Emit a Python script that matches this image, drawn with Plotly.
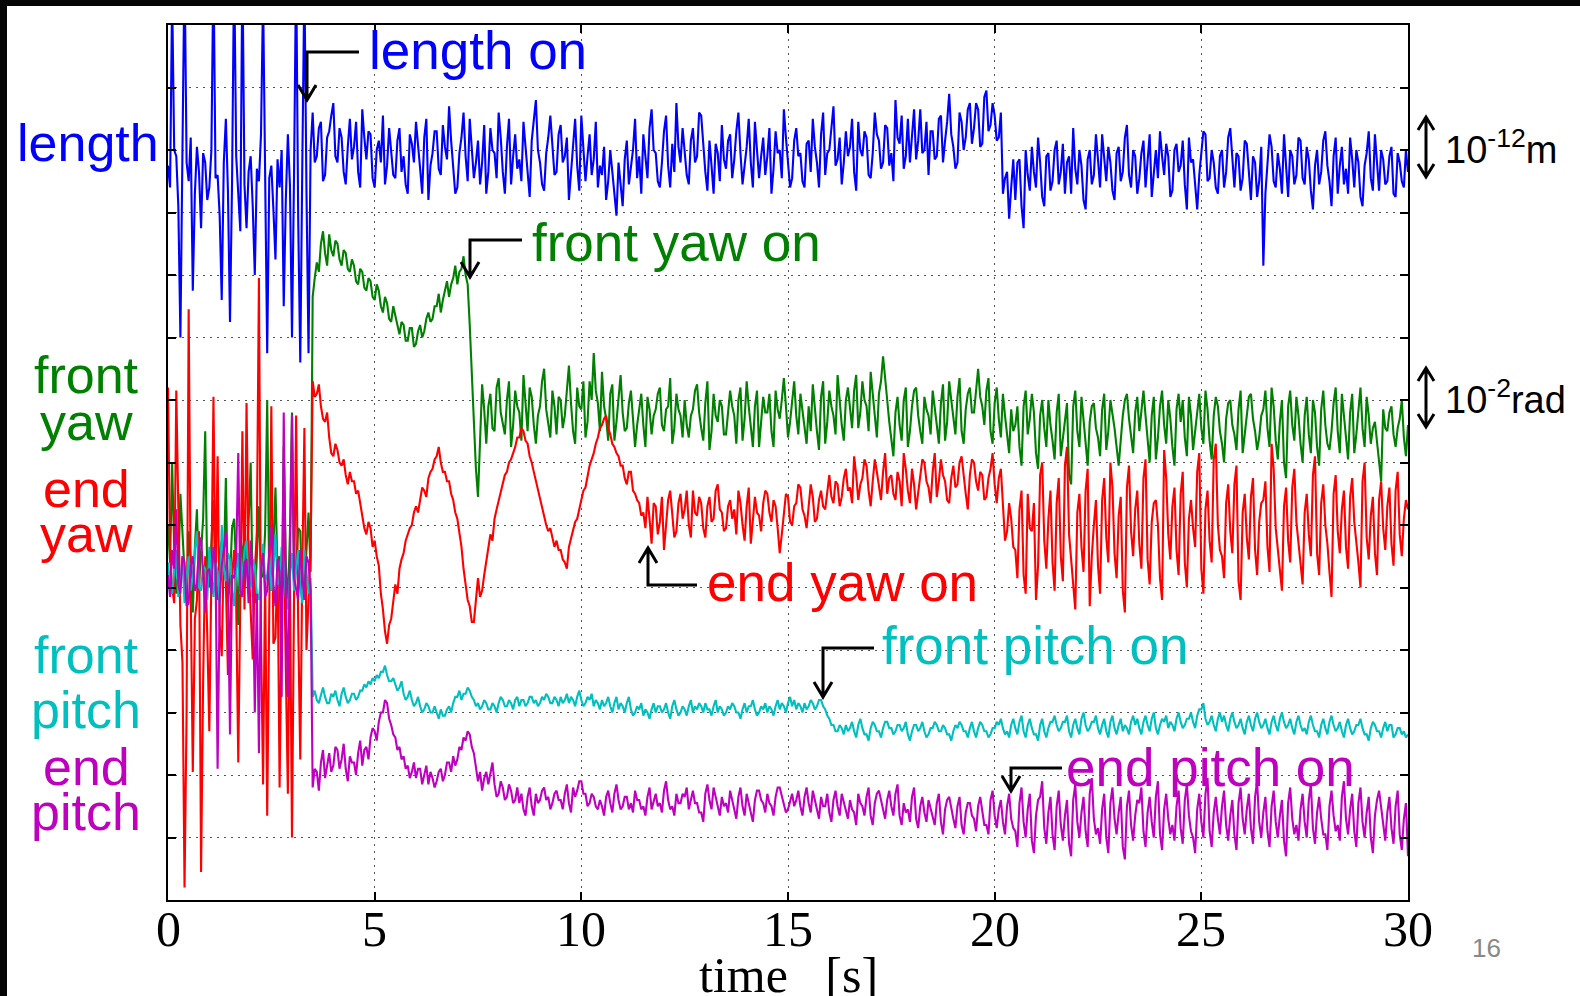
import plotly.graph_objects as go

# ---------------- data (sampled every 0.05 s, 0 .. 30 s) ----------------
DT = 0.05
x_ticks = [0, 5, 10, 15, 20, 25, 30]

length_vals = [
    235, 228, 290, 240, 238, 222, 180, 232, 300, 236,
    230, 244, 195, 226, 241, 233, 215, 239, 236, 224,
    228, 240, 300, 231, 232, 219, 192, 236, 250, 227,
    185, 230, 300, 238, 226, 214, 300, 229, 215, 233,
    238, 222, 200, 234, 230, 245, 290, 226, 175, 231,
    235, 221, 205, 237, 228, 240, 190, 224, 245, 229,
    180, 233, 300, 218, 172, 236, 295, 227, 175, 240,
    252, 236, 238, 247, 249, 230, 232, 244, 246, 251, 255, 238, 236, 247, 244, 233, 229, 241, 250, 237,
    241, 249, 233, 228, 253, 244, 237, 246, 245, 231, 228, 240, 243, 236, 251, 229, 235, 247, 240, 232,
    231, 243, 247, 233, 238, 229, 226, 245, 242, 236, 249, 240, 234, 226, 244, 250, 224, 235, 239, 246,
    246, 234, 232, 248, 241, 237, 254, 243, 235, 226, 228, 239, 244, 252, 238, 230, 250, 241, 231, 236,
    243, 229, 236, 248, 226, 233, 247, 240, 239, 231, 252, 244, 233, 226, 241, 250, 229, 238, 245, 234,
    237, 230, 249, 241, 232, 225, 243, 250, 256, 240, 236, 229, 227, 239, 244, 251, 240, 232, 233, 245,
    248, 236, 238, 244, 224, 233, 242, 250, 235, 227, 251, 242, 230, 238, 245, 232, 237, 249, 228, 235,
    232, 241, 224, 230, 240, 233, 226, 219, 236, 228, 222, 237, 243, 229, 234, 240, 250, 231, 238, 226,
    245, 238, 231, 247, 253, 240, 239, 230, 228, 236, 246, 251, 235, 228, 242, 233, 255, 241, 236, 247,
    240, 232, 229, 243, 247, 236, 238, 252, 251, 240, 233, 227, 243, 235, 226, 242, 239, 230, 248, 237,
    234, 243, 245, 231, 237, 246, 252, 239, 229, 235, 241, 250, 236, 228, 249, 240, 231, 238, 244, 232,
    238, 247, 226, 234, 246, 239, 240, 231, 253, 244, 235, 228, 231, 243, 247, 238, 239, 230, 228, 242,
    243, 233, 250, 241, 236, 228, 245, 252, 232, 239, 240, 248, 254, 235, 237, 244, 229, 236, 246, 238,
    241, 250, 233, 227, 249, 240, 238, 246, 244, 232, 231, 239, 252, 245, 243, 234, 236, 248, 247, 235,
    239, 230, 256, 244, 242, 251, 234, 238, 250, 236, 245, 253, 237, 243, 253, 239, 240, 249, 232, 246,
    246, 237, 238, 250, 251, 236, 243, 249, 258, 245, 241, 234, 236, 252, 249, 240, 244, 253, 255, 242,
    247, 255, 253, 241, 242, 257, 259, 246, 248, 255, 251, 243, 244, 252, 226, 231, 233, 218, 228, 237,
    224, 236, 237, 222, 215, 240, 232, 227, 241, 233, 228, 244, 236, 225, 222, 238, 239, 227, 230, 240,
    243, 229, 233, 242, 226, 236, 238, 226, 247, 234, 229, 240, 235, 224, 221, 237, 240, 229, 232, 245,
    237, 228, 245, 236, 230, 241, 236, 227, 224, 239, 241, 230, 233, 244, 248, 232, 228, 240, 238, 226,
    231, 239, 243, 228, 236, 245, 225, 233, 240, 231, 246, 238, 232, 242, 238, 225, 227, 240, 242, 233,
    235, 243, 229, 221, 244, 236, 237, 229, 221, 232, 239, 246, 245, 230, 231, 240, 236, 228, 226, 238,
    240, 228, 233, 244, 247, 236, 228, 239, 238, 227, 231, 243, 242, 233, 224, 238, 236, 225, 230, 241,
    203, 226, 236, 245, 241, 230, 228, 239, 234, 226, 245, 233, 225, 240, 238, 229, 232, 244, 243, 231,
    229, 241, 237, 227, 221, 235, 240, 229, 233, 243, 246, 235, 230, 222, 238, 244, 226, 235, 241, 229,
    234, 226, 244, 237, 228, 240, 236, 225, 222, 235, 239, 246, 231, 227, 245, 236, 227, 240, 237, 229,
    230, 238, 241, 226, 225, 239, 236, 230, 228, 240, 233,
]

front_yaw_vals = [
    120, 108, 140, 112, 98, 104, 130, 117, 105, 96,
    118, 109, 92, 113, 125, 101, 110, 122, 150, 103,
    100, 114, 128, 99, 96, 111, 115, 107, 135, 95,
    102, 119, 122, 106, 88, 116, 112, 100, 108, 121,
    140, 97, 95, 110, 126, 103, 104, 118, 160, 101,
    99, 113, 132, 105, 110, 94, 145, 108, 94, 117,
    156, 102, 107, 119, 118, 96, 100, 112, 124, 105,
    193, 199, 204, 201, 210, 214, 207, 203, 213, 208, 206, 211, 210, 205, 203, 208, 207, 202, 201, 205,
    203, 198, 197, 202, 201, 196, 195, 199, 198, 193, 192, 197, 195, 190, 188, 193, 191, 186, 185, 190,
    187, 183, 181, 185, 184, 179, 179, 183, 183, 177, 178, 182, 184, 180, 182, 186, 188, 185, 186, 190,
    190, 194, 188, 192, 195, 198, 193, 197, 199, 203, 197, 201, 202, 206, 200, 197, 184, 168, 150, 138,
    129, 148, 165, 157, 146, 158, 162, 151, 150, 164, 167, 156, 153, 149, 160, 166, 145, 152, 163, 158,
    156, 147, 168, 159, 150, 164, 161, 152, 146, 155, 158, 166, 170, 157, 152, 148, 163, 158, 149, 161,
    160, 151, 155, 163, 171, 159, 150, 146, 164, 158, 157, 166, 148, 153, 166, 160, 175, 163, 159, 150,
    169, 158, 154, 147, 162, 165, 147, 153, 160, 168, 156, 150, 151, 159, 163, 154, 145, 152, 158, 162,
    152, 145, 161, 157, 149, 155, 157, 162, 164, 152, 150, 157, 158, 167, 146, 151, 162, 157, 155, 148,
    160, 152, 148, 155, 157, 163, 165, 156, 151, 147, 159, 166, 144, 150, 162, 155, 153, 160, 158, 149,
    149, 155, 163, 158, 155, 146, 160, 164, 147, 154, 166, 158, 152, 145, 158, 163, 145, 152, 161, 156,
    156, 162, 150, 145, 163, 157, 154, 160, 167, 158, 148, 153, 160, 166, 155, 149, 162, 157, 151, 146,
    158, 150, 165, 157, 150, 144, 161, 166, 146, 153, 163, 158, 155, 149, 168, 160, 152, 147, 160, 164,
    157, 151, 163, 168, 151, 156, 166, 160, 158, 150, 169, 162, 155, 148, 162, 166, 174, 168, 160, 153,
    148, 142, 156, 161, 152, 147, 160, 164, 145, 150, 158, 163, 164, 155, 150, 146, 161, 157, 155, 149,
    163, 158, 152, 146, 159, 165, 147, 153, 166, 160, 155, 149, 161, 167, 150, 146, 157, 162, 164, 156,
    156, 163, 170, 161, 158, 152, 163, 167, 150, 146, 159, 164, 154, 148, 162, 155, 149, 143, 157, 150,
    152, 158, 145, 139, 158, 163, 149, 154, 162, 156, 143, 138, 155, 160, 151, 145, 160, 152, 147, 141,
    156, 162, 142, 148, 154, 159, 136, 133, 158, 163, 150, 145, 161, 154, 146, 139, 153, 158, 159, 151,
    148, 142, 157, 162, 144, 150, 160, 156, 151, 145, 139, 147, 155, 160, 162, 154, 149, 143, 156, 161,
    150, 157, 163, 155, 146, 140, 155, 161, 141, 148, 158, 163, 152, 146, 160, 154, 145, 139, 157, 162,
    153, 160, 148, 142, 161, 155, 144, 150, 156, 162, 151, 146, 163, 157, 147, 141, 155, 161, 158, 150,
    146, 140, 154, 159, 160, 152, 149, 144, 157, 163, 143, 149, 155, 161, 162, 154, 150, 144, 148, 155,
    157, 163, 151, 145, 164, 158, 147, 141, 153, 160, 140, 135, 158, 163, 152, 147, 161, 155, 146, 140,
    155, 161, 149, 143, 160, 156, 145, 139, 157, 163, 152, 146, 144, 150, 159, 164, 150, 143, 162, 156,
    148, 141, 156, 162, 143, 149, 158, 164, 151, 145, 161, 155, 146, 151, 153, 147, 140, 134, 157, 151,
    150, 156, 158, 149, 145, 151, 154, 160, 148, 142, 152,
]

end_yaw_vals = [
    164, 110, 100, 95, 163, 120, 88, 76, 4, 60,
    189, 98, 41, 90, 96, 118, 9, 70, 110, 85,
    54, 105, 161, 99, 142, 88, 78, 112, 102, 72,
    86, 104, 112, 95, 44, 100, 150, 93, 159, 108,
    90, 77, 105, 118, 199, 85, 37, 104, 27, 96,
    158, 82, 84, 110, 36, 92, 118, 74, 34, 103,
    20, 98, 155, 88, 45, 107, 151, 80, 96, 112,
    166, 161, 162, 165, 158, 154, 153, 156, 148, 143, 142, 146, 144, 140, 139, 141, 136, 133, 137, 134,
    134, 130, 131, 127, 124, 119, 117, 121, 119, 113, 115, 110, 107, 98, 93, 86, 82, 88, 90, 96,
    101, 98, 106, 109, 111, 115, 117, 119, 120, 124, 126, 124, 128, 132, 131, 129, 135, 137, 138, 141,
    142, 145, 140, 137, 137, 134, 134, 130, 128, 124, 122, 117, 113, 106, 101, 96, 94, 89, 89, 95,
    103, 97, 99, 104, 108, 112, 117, 115, 122, 125, 128, 131, 133, 136, 137, 140, 141, 143, 145, 148,
    148, 151, 150, 147, 146, 142, 140, 137, 134, 131, 128, 126, 123, 120, 118, 119, 116, 113, 115, 112,
    112, 109, 108, 106, 113, 116, 118, 121, 122, 125, 128, 131, 132, 136, 139, 141, 143, 146, 148, 151,
    152, 154, 155, 151, 149, 146, 145, 143, 142, 139, 139, 135, 133, 137, 137, 131, 130, 128, 127, 123,
    124, 119, 129, 122, 114, 127, 126, 117, 121, 129, 112, 120, 128, 131, 124, 116, 118, 127, 130, 122,
    125, 131, 120, 116, 131, 124, 123, 129, 127, 119, 116, 126, 129, 121, 122, 131, 133, 125, 124, 118,
    119, 126, 128, 122, 125, 117, 131, 127, 120, 115, 126, 132, 114, 121, 129, 124, 123, 118, 127, 131,
    130, 124, 121, 128, 126, 119, 111, 117, 124, 130, 129, 121, 120, 126, 127, 133, 132, 125, 123, 119,
    126, 133, 129, 121, 122, 128, 131, 126, 125, 130, 136, 129, 127, 134, 133, 126, 129, 135, 138, 131,
    132, 127, 142, 136, 128, 133, 135, 141, 139, 131, 126, 134, 141, 137, 133, 128, 137, 143, 130, 135,
    136, 130, 128, 137, 134, 126, 143, 138, 131, 127, 138, 133, 125, 131, 135, 141, 140, 134, 132, 127,
    137, 143, 129, 134, 141, 136, 134, 128, 127, 135, 139, 132, 133, 140, 142, 135, 130, 125, 136, 141,
    140, 134, 131, 137, 136, 128, 129, 135, 138, 143, 133, 127, 135, 138, 124, 115, 118, 127, 122, 113,
    112, 103, 125, 131, 104, 98, 130, 119, 118, 127, 96, 107, 136, 140, 115, 106, 122, 131, 108, 99,
    127, 135, 110, 102, 139, 145, 117, 109, 101, 93, 124, 130, 113, 105, 131, 138, 94, 110, 120, 128,
    107, 98, 128, 135, 116, 108, 140, 132, 111, 103, 123, 129, 99, 92, 132, 139, 118, 110, 125, 131,
    114, 106, 135, 141, 109, 101, 121, 127, 128, 120, 103, 96, 144, 135, 117, 109, 126, 132, 112, 104,
    130, 137, 108, 100, 122, 128, 119, 113, 137, 143, 106, 98, 125, 131, 115, 108, 141, 146, 120, 112,
    110, 103, 127, 133, 118, 111, 133, 139, 102, 96, 124, 130, 116, 109, 129, 135, 112, 104, 121, 127,
    128, 134, 113, 105, 146, 138, 119, 112, 107, 99, 126, 132, 115, 108, 132, 138, 121, 114, 109, 101,
    124, 130, 117, 110, 136, 142, 111, 104, 127, 133, 120, 114, 105, 97, 130, 136, 118, 111, 125, 131,
    113, 106, 129, 135, 121, 115, 108, 100, 134, 140, 116, 109, 123, 129, 111, 104, 128, 134, 119, 112,
    126, 132, 114, 107, 131, 137, 117, 110, 122, 128, 125,
]

front_pitch_vals = [
    108, 101, 98, 106, 112, 97, 101, 110, 95, 103,
    110, 99, 104, 112, 118, 100, 99, 107, 106, 96,
    113, 104, 97, 108, 105, 95, 120, 106, 102, 111,
    109, 100, 94, 105, 111, 98, 103, 112, 115, 101,
    100, 109, 107, 98, 96, 105, 114, 102, 104, 110,
    99, 106, 117, 101, 102, 113, 108, 97, 93, 104,
    111, 99, 105, 112, 100, 95, 112, 106, 98, 103,
    65, 67, 64, 63, 66, 68, 65, 63, 63, 66, 65, 67, 64, 62, 66, 68, 65, 63, 64, 66,
    66, 64, 65, 67, 67, 69, 68, 70, 69, 71, 70, 72, 71, 73, 73, 75, 72, 70, 70, 71,
    69, 67, 68, 70, 66, 64, 65, 67, 64, 62, 63, 65, 62, 60, 61, 63, 62, 60, 60, 62,
    60, 58, 61, 59, 59, 61, 62, 60, 63, 65, 65, 67, 64, 66, 66, 68, 67, 65, 64, 62,
    63, 61, 62, 64, 63, 61, 61, 63, 62, 60, 63, 65, 64, 62, 62, 64, 63, 61, 64, 65,
    62, 64, 64, 62, 63, 65, 65, 63, 64, 62, 63, 65, 64, 66, 65, 63, 63, 65, 64, 62,
    65, 63, 64, 66, 63, 65, 64, 62, 65, 67, 64, 62, 63, 65, 64, 66, 62, 64, 63, 61,
    64, 62, 63, 65, 62, 60, 63, 65, 61, 63, 62, 60, 63, 65, 61, 59, 60, 62, 61, 63,
    59, 61, 60, 58, 61, 63, 60, 62, 62, 60, 61, 63, 60, 58, 62, 64, 61, 59, 60, 62,
    61, 59, 62, 64, 60, 62, 61, 63, 62, 60, 63, 61, 61, 59, 62, 64, 60, 62, 61, 59,
    60, 62, 61, 63, 62, 60, 60, 58, 61, 63, 60, 62, 62, 64, 61, 59, 60, 62, 61, 63,
    60, 62, 61, 59, 62, 64, 61, 63, 62, 60, 63, 65, 62, 64, 61, 63, 62, 60, 63, 61,
    62, 64, 63, 61, 62, 64, 64, 62, 61, 59, 58, 56, 56, 54, 54, 56, 55, 53, 56, 54,
    55, 57, 54, 52, 56, 58, 55, 53, 53, 51, 55, 57, 56, 54, 54, 52, 55, 57, 57, 55,
    55, 53, 54, 56, 56, 54, 55, 57, 53, 51, 54, 56, 56, 54, 55, 57, 54, 52, 53, 55,
    55, 57, 56, 54, 54, 56, 55, 53, 53, 51, 54, 56, 55, 57, 56, 54, 54, 52, 55, 57,
    54, 52, 55, 57, 56, 54, 54, 52, 53, 55, 55, 57, 56, 58, 55, 53, 54, 52, 56, 58,
    55, 53, 57, 59, 54, 52, 56, 58, 55, 53, 53, 51, 56, 58, 54, 52, 55, 57, 57, 59,
    56, 54, 55, 57, 57, 59, 54, 52, 56, 58, 55, 53, 58, 60, 56, 54, 55, 57, 57, 59,
    55, 53, 56, 58, 54, 52, 57, 59, 55, 53, 56, 58, 54, 56, 55, 53, 57, 59, 56, 58,
    55, 53, 57, 59, 56, 54, 58, 60, 55, 53, 56, 58, 57, 59, 55, 57, 56, 54, 58, 60,
    57, 55, 56, 58, 58, 60, 57, 55, 59, 61, 61, 63, 58, 56, 57, 59, 56, 54, 58, 60,
    57, 59, 56, 54, 58, 60, 57, 55, 56, 58, 55, 53, 57, 59, 56, 54, 58, 60, 57, 55,
    56, 58, 55, 53, 57, 59, 56, 54, 58, 60, 57, 55, 56, 58, 55, 53, 57, 59, 56, 54,
    55, 53, 57, 59, 56, 54, 54, 52, 56, 58, 55, 53, 57, 59, 56, 54, 55, 57, 54, 52,
    56, 58, 55, 53, 54, 56, 56, 58, 55, 53, 53, 51, 55, 57, 56, 54, 54, 52, 55, 57,
    54, 56, 56, 52, 53, 55, 55, 53, 54, 52, 53,
]

end_pitch_vals = [
    104, 97, 112, 106, 125, 101, 98, 110, 108, 94,
    95, 107, 110, 99, 101, 113, 116, 103, 92, 105,
    106, 98, 113, 108, 42, 96, 107, 112, 118, 100,
    53, 104, 103, 110, 143, 99, 97, 108, 109, 95,
    115, 104, 60, 98, 47, 106, 111, 97, 99, 112,
    120, 101, 94, 109, 105, 65, 156, 100, 65, 108,
    155, 103, 100, 96, 112, 104, 96, 110, 108, 99,
    36, 42, 41, 35, 44, 48, 39, 43, 47, 41, 43, 49, 48, 42, 45, 50, 42, 38, 46, 44,
    44, 40, 47, 51, 43, 48, 49, 45, 52, 55, 54, 51, 57, 60, 60, 64, 63, 58, 56, 53,
    52, 48, 49, 45, 46, 42, 43, 39, 41, 44, 39, 42, 42, 37, 40, 43, 37, 41, 39, 36,
    38, 41, 42, 38, 40, 44, 44, 41, 46, 43, 45, 49, 48, 52, 51, 54, 53, 49, 47, 42,
    38, 41, 35, 39, 41, 37, 40, 44, 37, 33, 34, 38, 36, 32, 33, 37, 35, 31, 32, 36,
    31, 34, 29, 27, 33, 36, 30, 27, 34, 31, 32, 35, 36, 32, 33, 29, 31, 34, 35, 32,
    32, 29, 34, 37, 31, 28, 36, 33, 35, 38, 38, 34, 34, 30, 31, 34, 33, 30, 29, 32,
    30, 27, 33, 35, 31, 28, 34, 37, 32, 29, 30, 33, 33, 29, 31, 28, 35, 32, 32, 29,
    30, 27, 33, 36, 29, 32, 34, 30, 31, 28, 35, 38, 32, 29, 30, 27, 34, 31, 31, 34,
    33, 36, 29, 32, 35, 31, 31, 28, 28, 25, 34, 37, 32, 29, 36, 33, 30, 27, 33, 30,
    31, 28, 35, 32, 29, 26, 33, 36, 30, 27, 34, 31, 28, 25, 32, 35, 35, 32, 31, 28,
    34, 31, 30, 27, 33, 36, 36, 33, 31, 28, 29, 32, 34, 30, 32, 35, 30, 27, 33, 36,
    31, 28, 35, 32, 29, 26, 33, 30, 30, 34, 28, 25, 32, 35, 30, 27, 34, 31, 29, 26,
    32, 29, 28, 24, 34, 31, 30, 27, 33, 36, 27, 24, 31, 34, 35, 32, 29, 26, 32, 35,
    30, 27, 34, 37, 27, 24, 31, 28, 29, 25, 33, 36, 26, 23, 30, 33, 28, 25, 32, 29,
    27, 24, 31, 34, 25, 21, 29, 32, 33, 29, 26, 23, 30, 33, 24, 21, 28, 31, 31, 27,
    26, 22, 30, 33, 28, 24, 24, 21, 32, 35, 27, 23, 29, 32, 25, 21, 30, 34, 26, 23,
    22, 17, 31, 36, 25, 20, 29, 34, 19, 15, 27, 32, 33, 38, 23, 18, 28, 33, 21, 16,
    30, 35, 24, 19, 27, 32, 18, 14, 32, 37, 25, 20, 28, 33, 22, 17, 34, 39, 26, 21,
    23, 18, 29, 34, 20, 15, 31, 36, 26, 21, 28, 33, 17, 13, 30, 35, 24, 19, 27, 32,
    31, 36, 22, 17, 28, 33, 25, 20, 33, 38, 21, 16, 29, 34, 26, 21, 24, 19, 30, 35,
    23, 18, 32, 37, 27, 22, 20, 15, 29, 34, 25, 20, 34, 39, 22, 17, 28, 33, 26, 21,
    30, 35, 24, 19, 27, 32, 21, 16, 31, 36, 26, 21, 29, 34, 23, 18, 33, 38, 25, 20,
    28, 33, 22, 17, 30, 35, 25, 20, 27, 32, 19, 14, 31, 36, 26, 21, 24, 19, 29, 34,
    25, 20, 32, 37, 23, 18, 28, 33, 26, 21, 21, 16, 30, 35, 27, 22, 24, 19, 33, 38,
    26, 21, 29, 34, 22, 17, 31, 36, 25, 20, 28, 33, 20, 15, 27, 32, 35, 30, 24, 19,
    28, 33, 23, 18, 30, 35, 21, 16, 26, 31, 14,
]

series = [
    ("length", length_vals, "#0000FF"),
    ("front yaw", front_yaw_vals, "#008000"),
    ("end yaw", end_yaw_vals, "#FF0000"),
    ("front pitch", front_pitch_vals, "#00BFBF"),
    ("end pitch", end_pitch_vals, "#BF00BF"),
]

# ---------------- geometry helpers (pixel -> paper) ----------------
W, H = 1580, 996
L, R, T, B = 168, 1408, 25, 900


def px(x):
    return (x - L) / (R - L)


def py(y):
    return (B - y) / (B - T)


fig = go.Figure()
for name, vals, color in series:
    fig.add_trace(go.Scatter(
        x=[round(i * DT, 3) for i in range(len(vals))], y=vals, mode="lines", name=name,
        line=dict(color=color, width=2.1), hoverinfo="skip"))

SANS = "Liberation Sans, Arial, sans-serif"
SERIF = "Liberation Serif, Times New Roman, serif"
BIG = 52
ON = 53

annotations = []


def text(s, x, y, color, size=BIG, xanchor="left", family=SANS, xref="paper"):
    annotations.append(dict(text=s, x=(px(x) if xref == "paper" else x), y=py(y),
                            xref=xref, yref="paper",
                            xanchor=xanchor, yanchor="middle", showarrow=False,
                            font=dict(family=family, size=size, color=color)))


# left labels
text("length", 88, 143, "#0000FF", xanchor="center")
text("front", 86, 375, "#008000", xanchor="center")
text("yaw", 86, 422, "#008000", xanchor="center")
text("end", 86, 489, "#FF0000", xanchor="center")
text("yaw", 86, 534, "#FF0000", xanchor="center")
text("front", 86, 655, "#00BFBF", xanchor="center")
text("pitch", 86, 710, "#00BFBF", xanchor="center")
text("end", 86, 767, "#BF00BF", xanchor="center")
text("pitch", 86, 812, "#BF00BF", xanchor="center")

# "on" labels
text("length on", 367, 50, "#0000FF", size=ON)
text("front yaw on", 530, 242, "#008000", size=ON)
text("end yaw on", 705, 582, "#FF0000", size=ON)
text("front pitch on", 880, 645, "#00BFBF", size=ON)
text("end pitch on", 1064, 767, "#BF00BF", size=ON)

# scale labels
text("10<sup>-12</sup>m", 1443, 147, "black", size=38)
text("10<sup>-2</sup>rad", 1443, 397, "black", size=38)

# page number
text("16", 1486, 948, "#888888", size=26, xanchor="center")

# x tick labels (placed just under the axis, as in the reference)
for v in x_ticks:
    text(str(v), v, 929, "black", size=50, xanchor="center", family=SERIF, xref="x")

# axis title
text("time\u00a0\u00a0\u00a0[s]", 788, 975, "black", size=50, xanchor="center", family=SERIF)

shapes = []


def path(points_list, width=3):
    d = ""
    for pts in points_list:
        d += "M " + " L ".join(f"{px(a):.5f},{py(b):.5f}" for a, b in pts) + " "
    shapes.append(dict(type="path", path=d.strip(), xref="paper", yref="paper",
                       line=dict(color="black", width=width), layer="above"))


def elbow_down(tx, tip_y, corner_y, end_x):
    path([[(end_x, corner_y), (tx, corner_y), (tx, tip_y)],
          [(tx - 9, tip_y - 15), (tx, tip_y), (tx + 9, tip_y - 15)]])


elbow_down(307, 100, 52, 359)
elbow_down(470, 277, 240, 522)
elbow_down(823, 697, 648, 874)
elbow_down(1011, 791, 768, 1062)
# end yaw on (arrow up)
path([[(697, 585), (648, 585), (648, 548)],
      [(639, 563), (648, 548), (657, 563)]])


def double_arrow(x, y0, y1):
    path([[(x, y0), (x, y1)],
          [(x - 8, y0 + 13), (x, y0), (x + 8, y0 + 13)],
          [(x - 8, y1 - 13), (x, y1), (x + 8, y1 - 13)]])


double_arrow(1426, 117, 177)
double_arrow(1426, 368, 427)

# dark slide border (top and left)
shapes.append(dict(type="rect", xref="paper", yref="paper", x0=px(-5), x1=px(7),
                   y0=py(1000), y1=py(-5), fillcolor="#050505", line=dict(width=0)))
shapes.append(dict(type="rect", xref="paper", yref="paper", x0=px(-5), x1=px(1585),
                   y0=py(6), y1=py(-5), fillcolor="#050505", line=dict(width=0)))

axis_common = dict(showline=True, linecolor="black", linewidth=2, mirror="ticks",
                   ticks="inside", ticklen=8, tickcolor="black", tickwidth=1.5,
                   showgrid=True, gridcolor="#555555", gridwidth=1, griddash="2px,5px",
                   zeroline=False)

fig.update_layout(
    width=W, height=H,
    margin=dict(l=L, r=W - R, t=T, b=H - B, pad=0),
    paper_bgcolor="white", plot_bgcolor="white", showlegend=False,
    xaxis=dict(range=[0, 30], tickvals=x_ticks, showticklabels=False, **axis_common),
    yaxis=dict(range=[0, 280], dtick=20, showticklabels=False, **axis_common),
    annotations=annotations, shapes=shapes,
)

fig.write_html("out.html", config={"displayModeBar": False},
               post_script="document.body.style.margin='0px';")
